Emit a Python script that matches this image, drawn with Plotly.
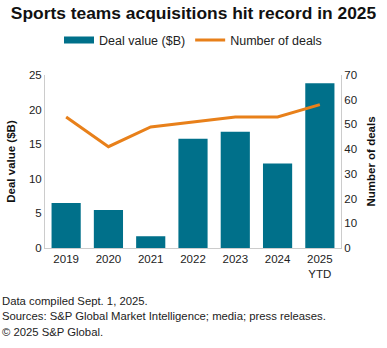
import plotly.graph_objects as go

years = ["2019", "2020", "2021", "2022", "2023", "2024", "2025<br>YTD"]
deal_value = [6.5, 5.5, 1.7, 15.8, 16.8, 12.2, 23.8]
num_deals = [53, 41, 49, 51, 53, 53, 58]
left_ticks = [0, 5, 10, 15, 20, 25]
right_ticks = [0, 10, 20, 30, 40, 50, 60, 70]

teal = "#00708A"
orange = "#E8801A"
font = "Liberation Sans, Arial, sans-serif"

fig = go.Figure()
fig.add_trace(go.Bar(x=years, y=deal_value, name="Deal value ($B)", showlegend=False,
                     marker=dict(color=teal, line=dict(width=0)), yaxis="y"))
# legend-only swatch for bars (wide rectangle)
fig.add_trace(go.Scatter(x=[None], y=[None], name="Deal value ($B)", mode="lines",
                         line=dict(color=teal, width=7), yaxis="y", hoverinfo="skip"))
fig.add_trace(go.Scatter(x=years, y=num_deals, name="Number of deals", mode="lines",
                         line=dict(color=orange, width=3), yaxis="y2"))

fig.update_layout(
    width=387, height=348,
    margin=dict(l=45, r=46, t=75, b=100),
    paper_bgcolor="white", plot_bgcolor="white",
    font=dict(family=font, size=11, color="#222"),
    bargap=0.31,
    showlegend=True,
    title=dict(text="<b>Sports teams acquisitions hit record in 2025</b>",
               x=0.5, xanchor="center", y=0.962, yanchor="middle",
               font=dict(size=17.4, color="#111")),
    legend=dict(orientation="h", x=0.5, xanchor="center", y=1.2, yanchor="middle",
                font=dict(size=12.5, color="#222"), traceorder="normal"),
    xaxis=dict(showline=True, linecolor="#cccccc", linewidth=1, ticks="",
               showgrid=False, tickfont=dict(size=11.5, color="#222")),
    yaxis=dict(range=[0, 25], tickvals=left_ticks, showgrid=False, zeroline=False,
               showline=True, linecolor="#cccccc", linewidth=1,
               title=dict(text="<b>Deal value ($B)</b>", font=dict(size=11.5, color="#111"), standoff=10),
               tickfont=dict(size=11.5, color="#222")),
    yaxis2=dict(range=[0, 70], tickvals=right_ticks, overlaying="y", side="right",
                showgrid=False, zeroline=False, showline=True, linecolor="#cccccc", linewidth=1,
                title=dict(text="<b>Number of deals</b>", font=dict(size=11.5, color="#111"), standoff=10),
                tickfont=dict(size=11.5, color="#222")),
)

notes = ["Data compiled Sept. 1, 2025.",
         "Sources: S&P Global Market Intelligence; media; press releases.",
         "\u00a9 2025 S&P Global."]
for i, t in enumerate(notes):
    fig.add_annotation(text=t, xref="paper", yref="paper", x=-45/296, xanchor="left",
                       y=-(301 - 248 + i * 15.3) / 173, yanchor="middle", showarrow=False,
                       font=dict(size=11.3, color="#222"))

fig.write_html("out.html")
